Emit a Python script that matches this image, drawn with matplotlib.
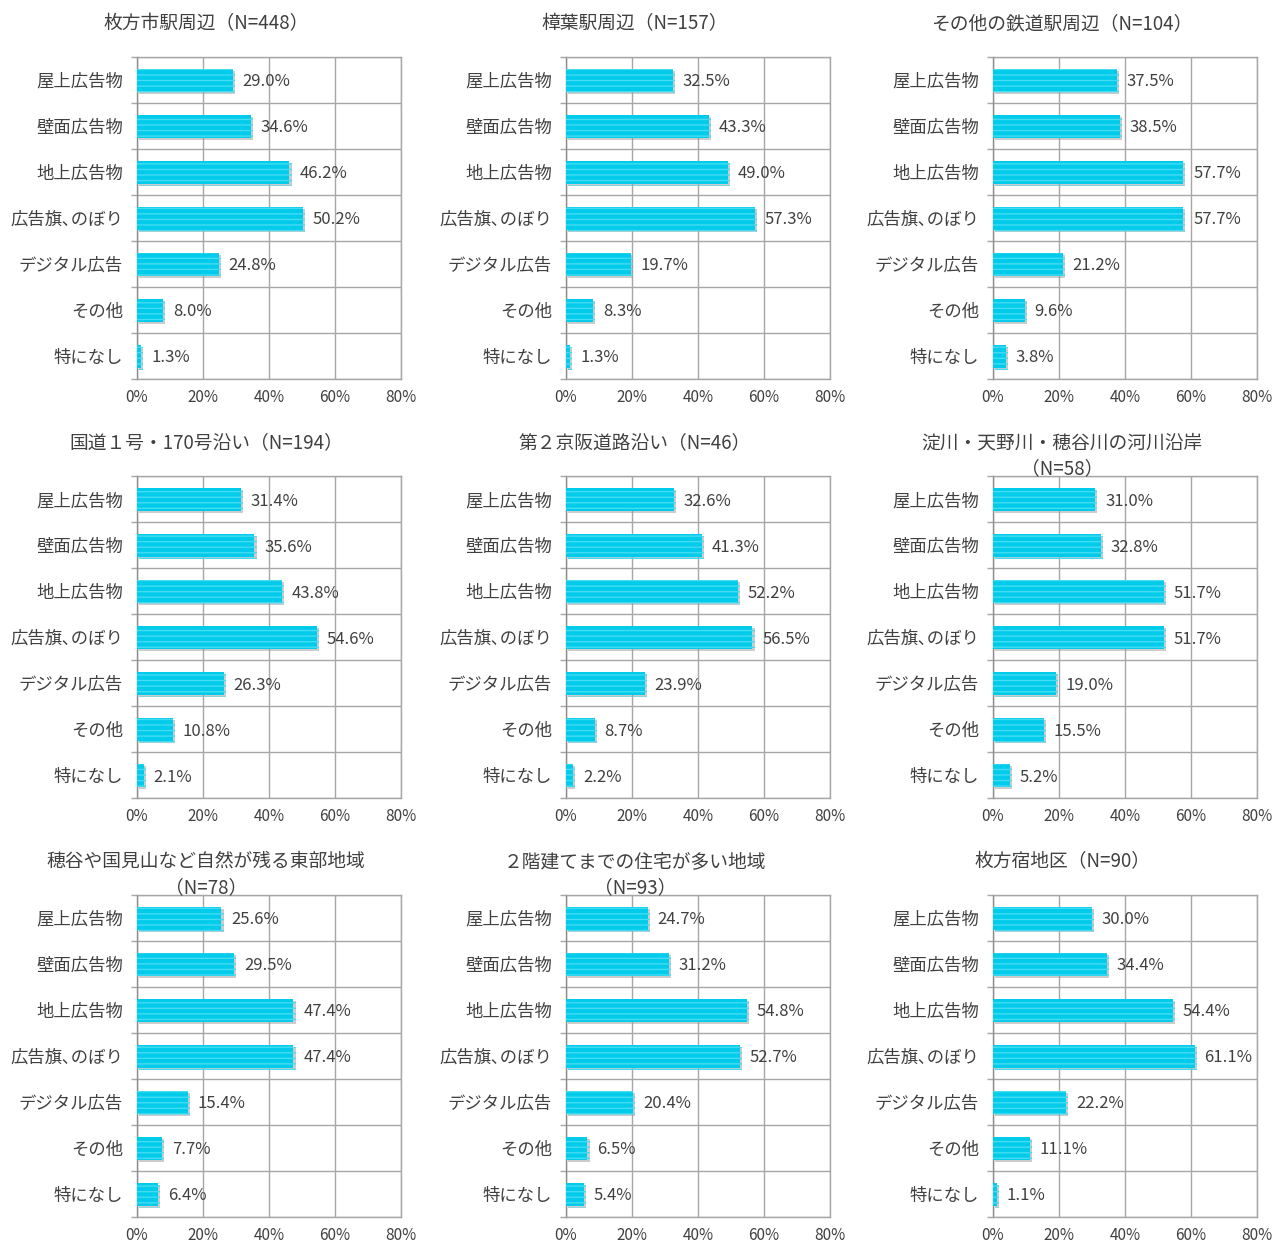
import matplotlib
matplotlib.use("Agg")
import matplotlib.pyplot as plt
import matplotlib.patheffects as pe
import numpy as np

plt.rcParams['font.family'] = ['Noto Sans CJK JP', 'DejaVu Sans']
plt.rcParams['hatch.linewidth'] = 1.0

categories = ["屋上広告物", "壁面広告物", "地上広告物", "広告旗､のぼり", "デジタル広告", "その他", "特になし"]

titles = [
    "枚方市駅周辺（N=448）",
    "樟葉駅周辺（N=157）",
    "その他の鉄道駅周辺（N=104）",
    "国道１号・170号沿い（N=194）",
    "第２京阪道路沿い（N=46）",
    "淀川・天野川・穂谷川の河川沿岸\n（N=58）",
    "穂谷や国見山など自然が残る東部地域\n（N=78）",
    "２階建てまでの住宅が多い地域\n（N=93）",
    "枚方宿地区（N=90）",
]

v_hirakatashi = [29.0, 34.6, 46.2, 50.2, 24.8, 8.0, 1.3]
v_kuzuha = [32.5, 43.3, 49.0, 57.3, 19.7, 8.3, 1.3]
v_other_station = [37.5, 38.5, 57.7, 57.7, 21.2, 9.6, 3.8]
v_route1 = [31.4, 35.6, 43.8, 54.6, 26.3, 10.8, 2.1]
v_keihan2 = [32.6, 41.3, 52.2, 56.5, 23.9, 8.7, 2.2]
v_river = [31.0, 32.8, 51.7, 51.7, 19.0, 15.5, 5.2]
v_east = [25.6, 29.5, 47.4, 47.4, 15.4, 7.7, 6.4]
v_lowrise = [24.7, 31.2, 54.8, 52.7, 20.4, 6.5, 5.4]
v_hirakatajuku = [30.0, 34.4, 54.4, 61.1, 22.2, 11.1, 1.1]

series = [v_hirakatashi, v_kuzuha, v_other_station, v_route1, v_keihan2,
          v_river, v_east, v_lowrise, v_hirakatajuku]

xticks = [0, 20, 40, 60, 80]
xticklabels = ["0%", "20%", "40%", "60%", "80%"]

W, H = 1279, 1243
fig = plt.figure(figsize=(W / 100, H / 100), dpi=100)

col_left = [137, 566, 993]
row_top = [57, 476, 895]
title_y = [13, 432, 851]
aw, ah = 264, 322

grid_c = "#A6A6A6"
bar_c = "#00CBEA"
stripe_c = "#45DCF2"
text_c = "#404040"

for i, vals in enumerate(series):
    r, c = divmod(i, 3)
    left = col_left[c] / W
    bottom = 1 - (row_top[r] + ah) / H
    ax = fig.add_axes([left, bottom, aw / W, ah / H])
    n = len(categories)
    y = np.arange(n)
    bars = ax.barh(y, vals, height=0.5, color=bar_c, edgecolor=stripe_c,
                   hatch='---', linewidth=0, zorder=3)
    for b in bars:
        b.set_path_effects([pe.SimplePatchShadow(offset=(1.5, -1.5), shadow_rgbFace='#9a9a9a', alpha=0.5), pe.Normal()])
        b.set_linewidth(0)
    for yi, v in zip(y, vals):
        ax.annotate(f"{v:.1f}%", (v, yi), xytext=(7, 0), textcoords='offset points',
                    va='center_baseline', ha='left', fontsize=12, color=text_c, zorder=5)
    ax.set_xlim(0, 80)
    ax.set_ylim(n - 0.5, -0.5)
    ax.set_xticks(xticks)
    ax.set_xticklabels(xticklabels, fontsize=11, color=text_c)
    ax.set_yticks(y)
    ax.set_yticklabels(categories, fontsize=12.5, color=text_c)
    ax.tick_params(axis='y', which='major', length=0, pad=10)
    ax.tick_params(axis='x', which='major', length=0, pad=7)
    ax.set_yticks(np.arange(-0.5, n, 1.0), minor=True)
    ax.tick_params(axis='y', which='minor', length=4, color=grid_c, width=1)
    ax.xaxis.grid(True, color=grid_c, linewidth=1, zorder=0)
    ax.yaxis.grid(True, which='minor', color=grid_c, linewidth=1, zorder=0)
    ax.set_axisbelow(True)
    for s in ax.spines.values():
        s.set_color(grid_c)
        s.set_linewidth(1)
    ax.spines['left'].set_color('#8c8c8c')
    cx = (col_left[c] + aw / 2 - 63) / W
    fig.text(cx, 1 - title_y[r] / H, titles[i], ha='center', va='top',
             fontsize=13.5, color=text_c, linespacing=1.35)

fig.savefig("out.png", dpi=100, facecolor='white')
